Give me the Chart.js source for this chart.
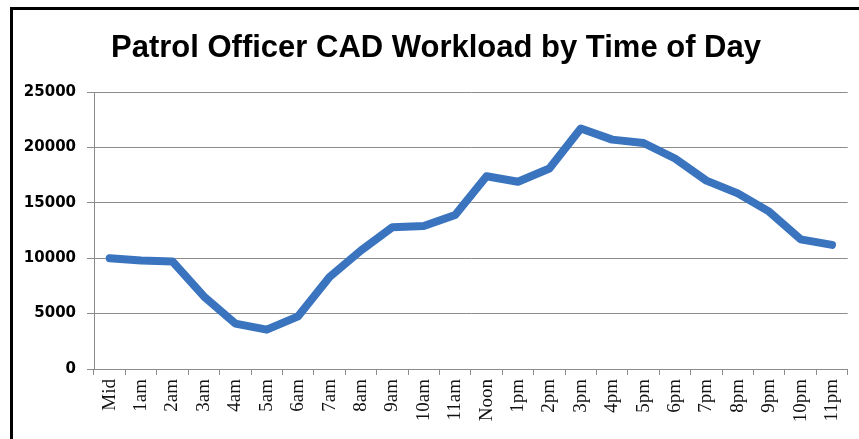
<!DOCTYPE html>
<html>
<head>
<meta charset="utf-8">
<script src="https://cdn.jsdelivr.net/npm/chart.js@4/dist/chart.umd.min.js"></script>
<style>
    body { margin: 0; background: #fff; }
    #frame {
        position: absolute; left: 10px; top: 7px; width: 900px; height: 500px;
        border-left: 3px solid #000; border-top: 3px solid #000;
    }
    #workload { position: absolute; left: 0; top: 0; }
</style>
</head>
<body>
<div id="frame"></div>
<canvas id="workload" width="859" height="439"></canvas>
<script>
// hour of day labels
const hours = ["Mid", "1am", "2am", "3am", "4am", "5am", "6am", "7am", "8am", "9am", "10am", "11am",
    "Noon", "1pm", "2pm", "3pm", "4pm", "5pm", "6pm", "7pm", "8pm", "9pm", "10pm", "11pm"];

// CAD workload per hour
const workload = [10000, 9800, 9700, 6550, 4100, 3550, 4750, 8300, 10700, 12800, 12900, 13900,
    17400, 16900, 18100, 21700, 20700, 20400, 19000, 17000, 15850, 14200, 11700, 11200];

const yMin = 0;
const yMax = 25000;
const yStep = 5000;

const gridGray = "#8c8c8c";

function renderWorkload() {
    const ctx = document.getElementById("workload");

    new Chart(ctx, {
        type: "line",
        data: {
            labels: hours,
            datasets: [{
                data: workload,
                borderColor: "#3b74be",
                borderWidth: 8,
                borderCapStyle: "round",
                borderJoinStyle: "round",
                pointRadius: 0,
                tension: 0
            }]
        },
        options: {
            responsive: false,
            animation: false,
            layout: {
                // a bit of left padding moves the title centre right, like the original
                padding: { left: 22, right: 9, top: 10, bottom: 0 }
            },
            plugins: {
                legend: { display: false },
                tooltip: { enabled: false },
                title: {
                    display: true,
                    text: "Patrol Officer CAD Workload by Time of Day",
                    color: "#000",
                    font: { family: "'Liberation Sans', Arial, sans-serif", size: 31, weight: "bold", lineHeight: 1.2 },
                    padding: { top: 20, bottom: 24.8 }
                }
            },
            scales: {
                x: {
                    offset: true,
                    grid: {
                        offset: true,
                        drawOnChartArea: false,
                        drawTicks: true,
                        tickLength: 6,
                        color: gridGray
                    },
                    border: { display: true, color: gridGray },
                    ticks: {
                        autoSkip: false,
                        minRotation: 90,
                        maxRotation: 90,
                        padding: 4,
                        color: "#111",
                        font: { family: "'Liberation Serif', 'DejaVu Serif', serif", size: 19 }
                    },
                    afterFit: function (scale) {
                        scale.height = 70;
                    }
                },
                y: {
                    min: yMin,
                    max: yMax,
                    grid: {
                        color: gridGray,
                        tickLength: 7
                    },
                    border: { display: true, color: gridGray },
                    ticks: {
                        stepSize: yStep,
                        padding: 11,
                        color: "#000",
                        font: { family: "'DejaVu Sans', sans-serif", size: 15, weight: "bold" },
                        callback: function (value) {
                            return String(value);
                        }
                    },
                    afterFit: function (scale) {
                        scale.width = 72;
                    }
                }
            }
        }
    });
}

renderWorkload();
</script>
</body>
</html>
